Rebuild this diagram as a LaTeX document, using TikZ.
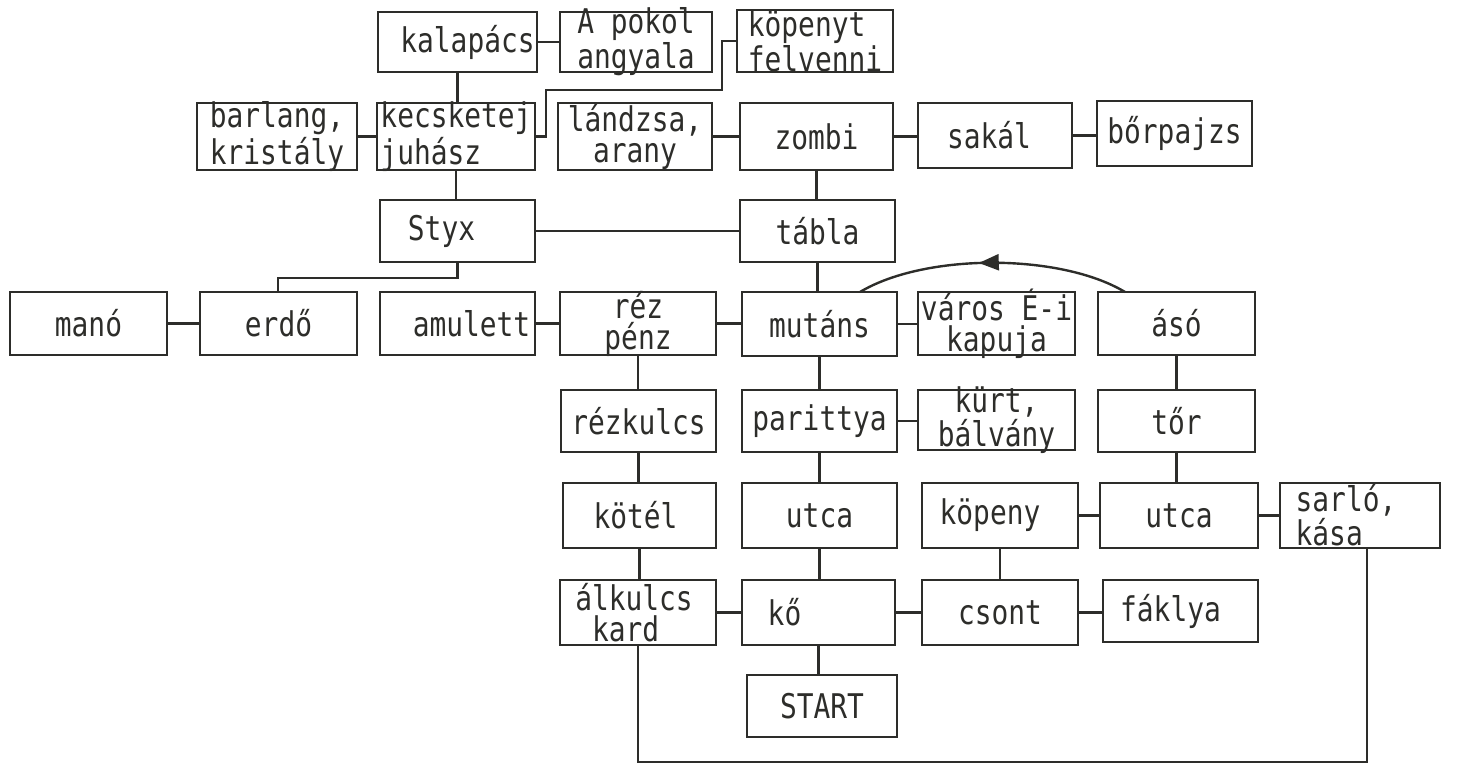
\documentclass[tikz,border=0pt]{standalone}
\usepackage{fontspec}
\usetikzlibrary{arrows.meta,decorations.markings,calc}
\newfontfamily\dm[FakeStretch=0.82]{DejaVu Sans Mono}
\definecolor{ink}{RGB}{45,45,42}
\tikzset{
  x=0.5pt, y=-0.5pt,
  box/.style={draw=ink, line width=1.3pt, rectangle, inner sep=0pt, outer sep=0pt},
  txt/.style={font=\dm\fontsize{17}{15.5}\selectfont, align=center, inner sep=0pt, text=ink},
  conn/.style={draw=ink, line width=1.2pt},
}
\newcommand\bx[7][]{%
  \node[box,minimum width={(#5-#3)*0.5pt},minimum height={(#6-#4)*0.5pt}] (#2) at ({(#3+#5)/2},{(#4+#6)/2}) {};
  \node[txt,#1] (#2-txt) at (#2.center) {#7};}
\newcommand\hconn[2]{\draw[conn] (#1.east) -- (#1.east -| #2.west);}
\newcommand\vconn[2]{\draw[conn] (#1.south) -- (#1.south |- #2.north);}
\begin{document}
\begin{tikzpicture}
\useasboundingbox (0,0) rectangle (1459,764);
% row A
\bx[xshift=5pt]{kal}{378}{12}{537}{72}{kalapács}
\bx{apok}{560}{12}{712}{72}{A pokol\\angyala}
\bx[align=left]{kopt}{737}{10}{893}{72}{köpenyt\\felvenni}
% row B
\bx[align=left]{bar}{197}{103}{357}{170}{barlang,\\kristály}
\bx[align=left]{kec}{377}{103}{535}{170}{kecsketej\\juhász}
\bx{lan}{558}{103}{712}{170}{lándzsa,\\arany}
\bx{zom}{740}{103}{893}{170}{zombi}
\bx[xshift=-3pt]{sak}{918}{103}{1072}{168}{sakál}
\bx{bor}{1097}{101}{1252}{166}{bőrpajzs}
% row C
\bx[xshift=-8pt]{styx}{380}{200}{535}{262}{Styx}
\bx{tab}{740}{200}{895}{262}{tábla}
% row D
\bx{mano}{10}{292}{167}{355}{manó}
\bx{erdo}{200}{292}{357}{355}{erdő}
\bx[xshift=7pt]{amu}{380}{292}{535}{355}{amulett}
\bx{rez}{560}{292}{716}{355}{réz\\pénz}
\bx{mut}{742}{292}{897}{356}{mutáns}
\bx{var}{918}{292}{1075}{355}{város É-i\\kapuja}
\bx{aso}{1098}{292}{1255}{355}{ásó}
% row E
\bx{rkul}{561}{390}{716}{452}{rézkulcs}
\bx{par}{742}{390}{897}{452}{parittya}
\bx{kurt}{918}{390}{1075}{450}{kürt,\\bálvány}
\bx{tor}{1098}{390}{1255}{452}{tőr}
% row F
\bx[xshift=-2pt]{kotel}{563}{483}{716}{548}{kötél}
\bx{utca1}{742}{483}{897}{548}{utca}
\bx[xshift=-5pt]{kpny}{922}{483}{1078}{548}{köpeny}
\bx{utca2}{1100}{483}{1258}{548}{utca}
\bx[align=left,xshift=-7pt,font=\dm\fontsize{17}{14.5}\selectfont]{sarlo}{1280}{483}{1440}{548}{sarló,\\kása}
% row G
\bx[align=left,xshift=-2pt]{alk}{560}{580}{716}{645}{álkulcs\\~kard}
\bx[xshift=-17pt]{ko}{742}{580}{895}{645}{kő}
\bx{cs}{922}{580}{1078}{645}{csont}
\bx[xshift=-5pt]{fak}{1103}{580}{1258}{642}{fáklya}
\bx{start}{747}{675}{897}{737}{START}
% coordinates for bends
\coordinate (k1) at (546,90);
\coordinate (k2) at (722,41);
\coordinate (s1) at (278,278);
\coordinate (b1) at (1367,762);
\coordinate (a1) at ($(aso.north west)+(27,0)$);
\coordinate (a2) at ($(mut.north west)+(118,0)$);
% connectors
\hconn{kal}{apok}
\vconn{kal}{kec}
\hconn{bar}{kec}
\draw[conn] (kec.east) -| (k1) -| (k2) -- (kopt.west |- k2);
\hconn{lan}{zom}
\hconn{zom}{sak}
\hconn{sak}{bor}
\vconn{zom}{tab}
\vconn{kec}{styx}
\hconn{styx}{tab}
\draw[conn] (styx.south) |- (s1) -- (s1 |- erdo.north);
\hconn{mano}{erdo}
\hconn{amu}{rez}
\hconn{rez}{mut}
\hconn{mut}{var}
\vconn{tab}{mut}
\draw[conn, decoration={markings, mark=at position 0.55 with {\arrow[ink]{Triangle[length=10pt,width=8pt]}}}, postaction=decorate]
  (a1) .. controls (1060,253) and (925,253) .. (a2);
\vconn{rez}{rkul}
\vconn{rkul}{kotel}
\vconn{kotel}{alk}
\vconn{mut}{par}
\hconn{par}{kurt}
\vconn{par}{utca1}
\vconn{utca1}{ko}
\vconn{aso}{tor}
\vconn{tor}{utca2}
\hconn{kpny}{utca2}
\hconn{utca2}{sarlo}
\vconn{kpny}{cs}
\hconn{alk}{ko}
\hconn{ko}{cs}
\hconn{cs}{fak}
\vconn{ko}{start}
\draw[conn] (alk.south) |- (b1) -- (b1 |- sarlo.south);
\end{tikzpicture}
\end{document}
